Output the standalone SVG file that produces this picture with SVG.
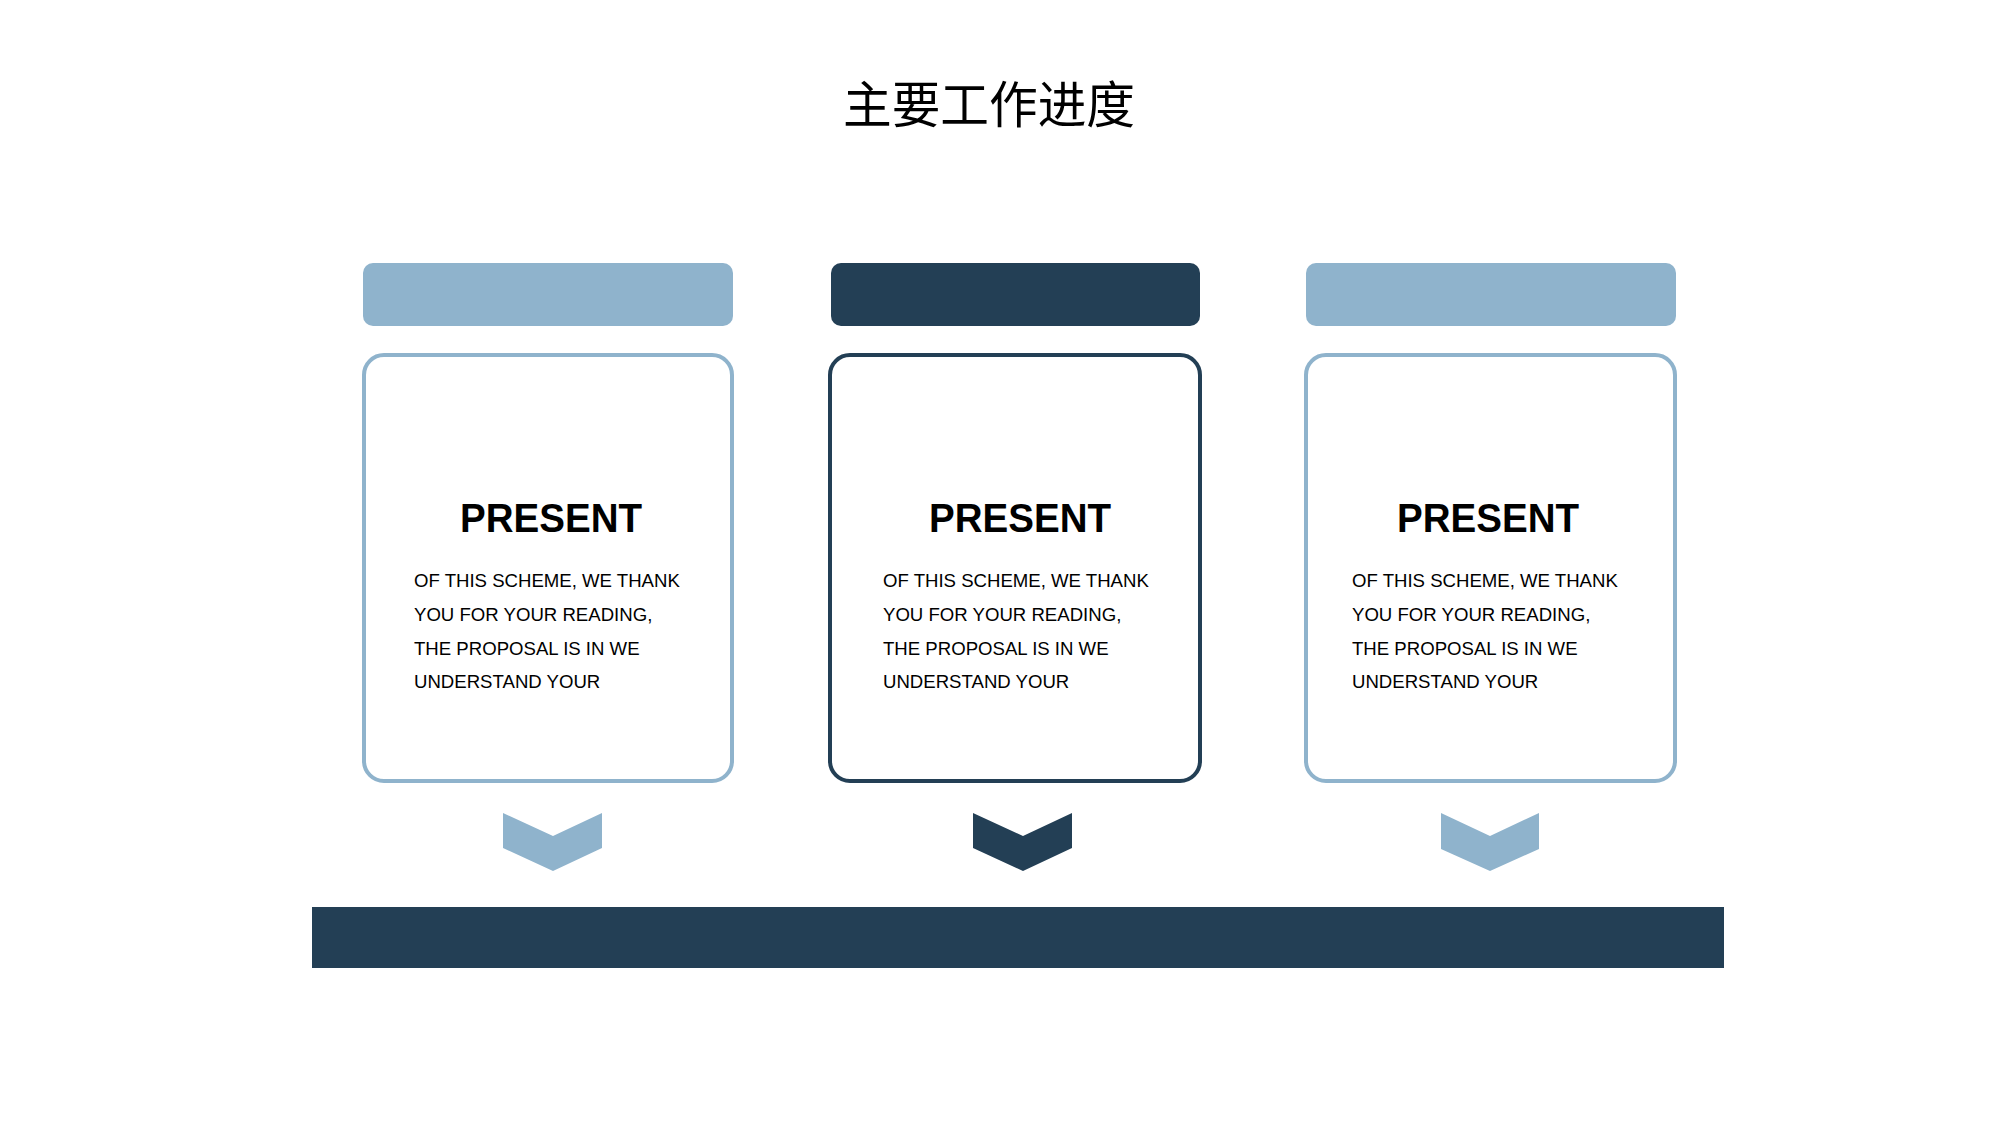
<svg xmlns="http://www.w3.org/2000/svg" width="2000" height="1126" viewBox="0 0 2000 1126">
<style>
.light{fill:#8fb3cc}
.dark{fill:#233f55}
.card{fill:#ffffff;stroke-width:4}
.card-l{stroke:#8fb3cc}
.card-d{stroke:#233f55}
.title{font-family:"Liberation Sans","Noto Sans CJK SC",sans-serif;font-size:50px;fill:#000;text-anchor:middle}
.head{font-family:"Liberation Sans",Arial,sans-serif;font-weight:bold;font-size:41px;fill:#000;text-anchor:middle}
.body{font-family:"Liberation Sans",Arial,sans-serif;font-size:18.6px;fill:#000}
</style>
<rect width="2000" height="1126" fill="#ffffff"/>
<text class="title" x="989" y="123" textLength="292" lengthAdjust="spacingAndGlyphs">主要工作进度</text>

<g id="node1">
<rect class="light" x="363" y="263" width="370" height="63" rx="10"/>
<rect class="card card-l" x="364" y="355" width="368" height="426" rx="20"/>
<text class="head" x="551" y="532" textLength="182" lengthAdjust="spacingAndGlyphs">PRESENT</text>
<text class="body" x="414" y="587">OF THIS SCHEME, WE THANK</text>
<text class="body" x="414" y="621">YOU FOR YOUR READING,</text>
<text class="body" x="414" y="655">THE PROPOSAL IS IN WE</text>
<text class="body" x="414" y="688">UNDERSTAND YOUR</text>
</g>

<g id="node2">
<rect class="dark" x="831" y="263" width="369" height="63" rx="10"/>
<rect class="card card-d" x="830" y="355" width="370" height="426" rx="20"/>
<text class="head" x="1020" y="532" textLength="182" lengthAdjust="spacingAndGlyphs">PRESENT</text>
<text class="body" x="883" y="587">OF THIS SCHEME, WE THANK</text>
<text class="body" x="883" y="621">YOU FOR YOUR READING,</text>
<text class="body" x="883" y="655">THE PROPOSAL IS IN WE</text>
<text class="body" x="883" y="688">UNDERSTAND YOUR</text>
</g>

<g id="node3">
<rect class="light" x="1306" y="263" width="370" height="63" rx="10"/>
<rect class="card card-l" x="1306" y="355" width="369" height="426" rx="20"/>
<text class="head" x="1488" y="532" textLength="182" lengthAdjust="spacingAndGlyphs">PRESENT</text>
<text class="body" x="1352" y="587">OF THIS SCHEME, WE THANK</text>
<text class="body" x="1352" y="621">YOU FOR YOUR READING,</text>
<text class="body" x="1352" y="655">THE PROPOSAL IS IN WE</text>
<text class="body" x="1352" y="688">UNDERSTAND YOUR</text>
</g>

<g id="connectors">
<polygon class="light" points="503,813 553,836 602,813 602,848 553,871 503,848"/>
<polygon class="dark" points="973,813 1023,836 1072,813 1072,848 1023,871 973,848"/>
<polygon class="light" points="1441,813 1490,836 1539,813 1539,849 1490,871 1441,849"/>
</g>

<g id="timeline">
<rect class="dark" x="312" y="907" width="1412" height="61"/>
</g>
</svg>
